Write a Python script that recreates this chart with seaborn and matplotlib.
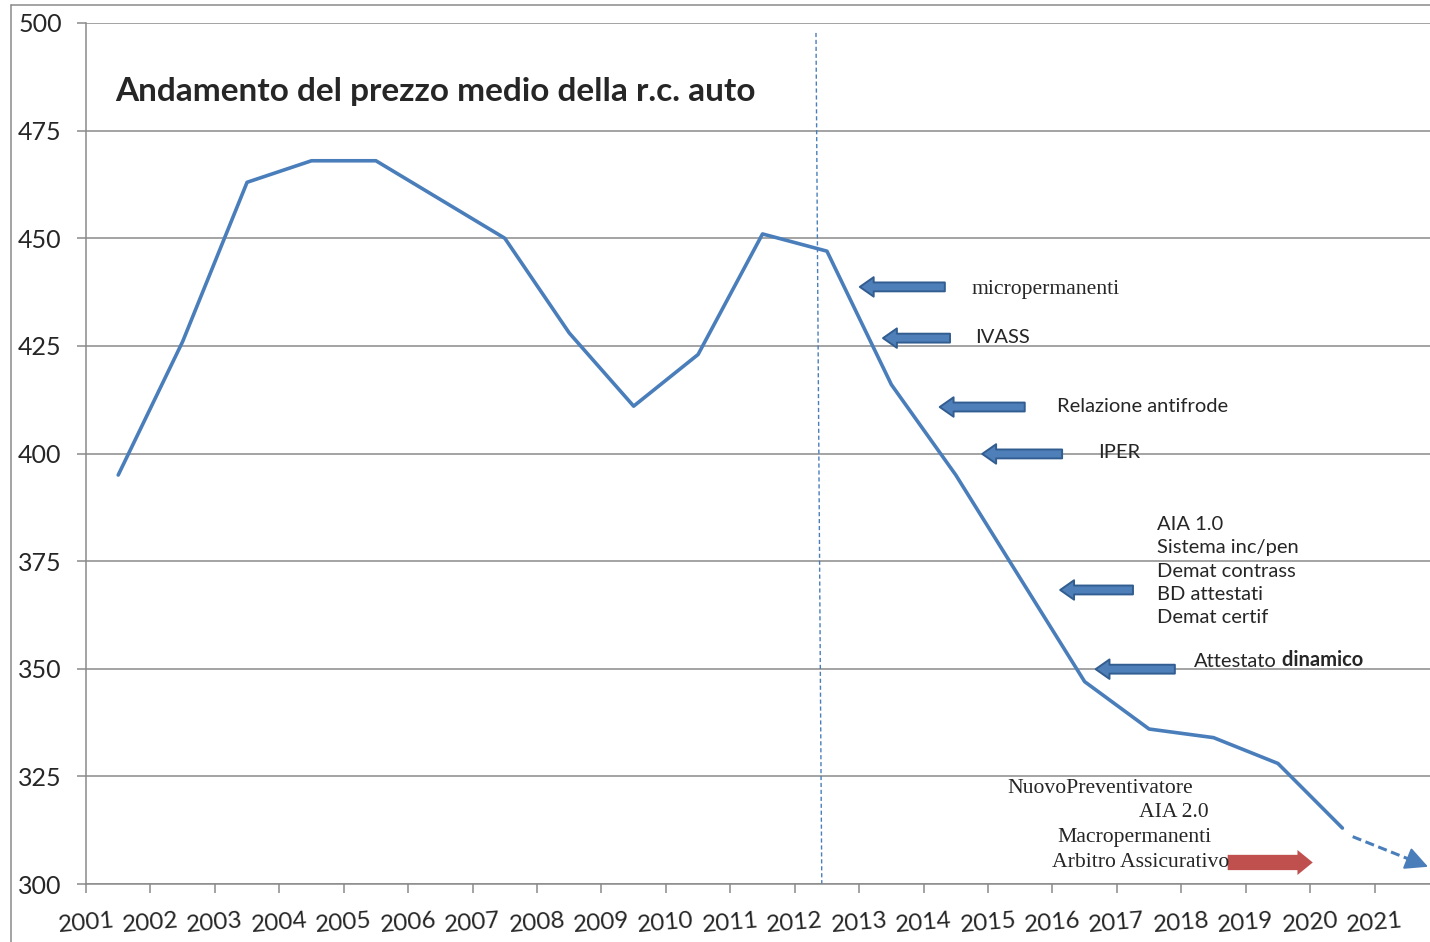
import numpy as np
import pandas as pd
import matplotlib
matplotlib.use('Agg')
import matplotlib.pyplot as plt
import seaborn as sns
from matplotlib.patches import FancyArrowPatch
from matplotlib.lines import Line2D

# dati
anni = [str(a) for a in range(2001, 2022)]
prezzo = [395, 426, 463, 468, 468, 459, 450, 428, 411, 423, 451,
          447, 416, 395, 371, 347, 336, 334, 328, 313]
trend_x = [19.16, 20.33]
trend_y = [311, 304]
linea_2012_x = [10.83, 10.92]
linea_2012_y = [497.7, 300]

# frecce blu (coda x, punta x, y) ed etichette
frecce_x_coda = [12.83, 12.91, 14.07, 14.65, 15.75, 16.40]
frecce_x_punta = [11.51, 11.87, 12.75, 13.41, 14.62, 15.17]
frecce_y = [438.7, 426.8, 410.8, 399.9, 368.3, 349.9]
etichette = ['micropermanenti', 'IVASS', 'Relazione antifrode', 'IPER',
             'AIA 1.0\nSistema inc/pen\nDemat contrass\nBD attestati\nDemat certif',
             'Attestato']
etichette_x = [13.25, 13.30, 14.57, 15.21, 16.12, 16.70]
etichette_y = [438.0, 426.9, 410.9, 400.2, 372.7, 351.6]
etichette_serif = [True, False, False, False, False, False]

riforme = ['NuovoPreventivatore', 'AIA 2.0', 'Macropermanenti', 'Arbitro Assicurativo']
riforme_x = [16.68, 16.93, 16.96, 17.25]
riforme_y = [322.1, 316.5, 310.7, 304.9]
freccia_rossa_x = [17.22, 18.54]
freccia_rossa_y = 305

df = pd.DataFrame({'pos': np.arange(len(prezzo)), 'prezzo': prezzo})

sns.set_theme(style='white')
plt.rcParams['font.family'] = ['Lato', 'DejaVu Sans']

blu = '#4a7ebb'
grigio = '#8a8a8a'

fig = plt.figure(figsize=(14.3, 9.42), dpi=100)
ax = fig.add_axes([86 / 1430, 1 - 884 / 942, 1 - 86 / 1430, (884 - 23) / 942])

sns.lineplot(data=df, x='pos', y='prezzo', ax=ax, color=blu, linewidth=2.6)

ax.set_xlim(-0.5, 20.36)
ax.set_ylim(300, 500)
ax.set_yticks(np.arange(300, 501, 25))
ax.set_xticks(np.arange(len(anni)) - 0.5)
ax.set_xticklabels(anni, rotation=5, fontsize=17.5)
ax.tick_params(axis='y', labelsize=18, length=6.5, width=1.1, color=grigio, pad=11, left=True)
ax.tick_params(axis='x', length=6.5, width=1.1, color=grigio, pad=12, bottom=True)
for t in ax.get_xticklabels():
    t.set_ha('center')
ax.set_xlabel('')
ax.set_ylabel('')
ax.yaxis.grid(True, color=grigio, linewidth=1.1)
ax.xaxis.grid(False)
for s in ['top', 'right']:
    ax.spines[s].set_visible(False)
for s in ['left', 'bottom']:
    ax.spines[s].set_color(grigio)
    ax.spines[s].set_linewidth(1.1)

# linea verticale tratteggiata (2012)
ax.plot(linea_2012_x, linea_2012_y, color=blu, linewidth=1, linestyle=(0, (3, 2)))

# tendenza prevista
ax.plot(trend_x, trend_y, color=blu, linewidth=2.2, linestyle=(0, (3, 1.5)), clip_on=False)
ax.annotate('', xy=(trend_x[1], trend_y[1]),
            xytext=(trend_x[1] - 0.15 * (trend_x[1] - trend_x[0]),
                    trend_y[1] - 0.15 * (trend_y[1] - trend_y[0])),
            arrowprops=dict(arrowstyle='-|>,head_length=0.7,head_width=0.35', color=blu,
                            linewidth=1.5, shrinkA=0, shrinkB=0, mutation_scale=20),
            annotation_clip=False)

ax.text(-0.05, 484.0, 'Andamento del prezzo medio della r.c. auto', fontsize=24,
        fontweight='bold', va='center', ha='left')

for xc, xp, y in zip(frecce_x_coda, frecce_x_punta, frecce_y):
    ax.add_patch(FancyArrowPatch((xc, y), (xp, y),
                                 arrowstyle='simple,head_length=0.5,head_width=0.7,tail_width=0.32',
                                 mutation_scale=20, fc='#4f7fb8', ec='#325d91', lw=1.4,
                                 shrinkA=0, shrinkB=0))

for lab, x, y, serif in zip(etichette, etichette_x, etichette_y, etichette_serif):
    if serif:
        t = ax.text(x, y, lab, fontsize=15.6, family='Liberation Serif', va='center', ha='left')
    else:
        t = ax.text(x, y, lab, fontsize=14.5, va='center', ha='left', linespacing=1.45)
ax.annotate(' dinamico', xy=(1, 0), xycoords=t, va='bottom', ha='left',
            fontsize=14.5, fontweight='bold')

for lab, x, y in zip(riforme, riforme_x, riforme_y):
    ax.text(x, y, lab, fontsize=15.6, family='Liberation Serif', va='center', ha='right')

ax.add_patch(FancyArrowPatch((freccia_rossa_x[0], freccia_rossa_y),
                             (freccia_rossa_x[1], freccia_rossa_y),
                             arrowstyle='simple,head_length=0.55,head_width=0.9,tail_width=0.55',
                             mutation_scale=20, fc='#c0504d', ec='none',
                             shrinkA=0, shrinkB=0))

# cornice del grafico
fig.add_artist(Line2D([11 / 1430, 11 / 1430], [0, 1 - 5 / 942], transform=fig.transFigure,
                      color=grigio, linewidth=1.1))
fig.add_artist(Line2D([11 / 1430, 1], [1 - 5 / 942, 1 - 5 / 942], transform=fig.transFigure,
                      color=grigio, linewidth=1.1))

fig.savefig('out.png', dpi=100)
